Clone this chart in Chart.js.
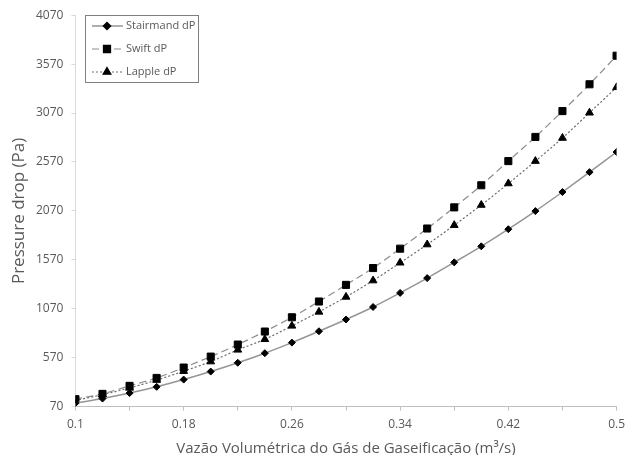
<!DOCTYPE html>
<html>
<head>
<meta charset="utf-8">
<script src="https://cdn.jsdelivr.net/npm/chart.js@4.4.1/dist/chart.umd.min.js"></script>
<style>
  html, body { margin: 0; padding: 0; background: #fff; }
  #wrap { width: 632px; height: 455px; }
</style>
</head>
<body>
<div id="wrap"><canvas id="dpChart"></canvas></div>
<script>
// vazão (m3/s)
const vazao = [0.10, 0.12, 0.14, 0.16, 0.18, 0.20, 0.22, 0.24, 0.26, 0.28, 0.30,
               0.32, 0.34, 0.36, 0.38, 0.40, 0.42, 0.44, 0.46, 0.48, 0.50];

// perda de carga (Pa)
const stairmandDP = [105, 152, 208, 272, 346, 428, 518, 616, 724, 840, 960,
                     1088, 1232, 1383, 1544, 1708, 1883, 2068, 2263, 2466, 2672];
const swiftDP = [146, 200, 282, 363, 469, 581, 704, 837, 983, 1144, 1314,
                 1486, 1684, 1890, 2106, 2332, 2579, 2826, 3090, 3364, 3656];
const lappleDP = [133, 192, 261, 341, 432, 530, 650, 758, 895, 1038, 1191,
                  1358, 1540, 1726, 1924, 2130, 2350, 2579, 2815, 3073, 3333];

// eixos
const yTicks = [70, 570, 1070, 1570, 2070, 2570, 3070, 3570, 4070];
const xTicks = [0.10, 0.14, 0.18, 0.22, 0.26, 0.30, 0.34, 0.38, 0.42, 0.46, 0.50];
const xTickLabels = ['0.1', '', '0.18', '', '0.26', '', '0.34', '', '0.42', '', '0.5'];

const FONT = "'Open Sans', sans-serif";
const GREY_TXT = '#595959';

const toPoints = vals => vals.map((v, i) => ({ x: vazao[i], y: v }));

// legenda no estilo do Excel (linha + marcador)
const legendBox = {
  id: 'legendBox',
  afterDraw(chart) {
    const { ctx, chartArea } = chart;
    const x0 = Math.round(chartArea.left) + 10;
    const y0 = Math.round(chartArea.top);
    ctx.save();
    ctx.fillStyle = '#fff';
    ctx.fillRect(x0, y0, 113, 67);
    ctx.strokeStyle = '#7f7f7f';
    ctx.lineWidth = 1;
    ctx.strokeRect(x0 + 0.5, y0 + 0.5, 113, 67);
    chart.data.datasets.forEach((ds, i) => {
      const y = y0 + 11 + i * 23;
      ctx.strokeStyle = ds.borderColor;
      ctx.lineWidth = ds.borderWidth;
      ctx.setLineDash(ds.borderDash || []);
      ctx.beginPath();
      ctx.moveTo(x0 + 7, y);
      ctx.lineTo(x0 + 38, y);
      ctx.stroke();
      ctx.setLineDash([]);
      ctx.fillStyle = '#000';
      ctx.strokeStyle = '#000';
      Chart.helpers.drawPoint(ctx, {
        pointStyle: ds.pointStyle, radius: ds.pointRadius, borderWidth: 1, rotation: 0
      }, x0 + 22, y);
      ctx.fillStyle = GREY_TXT;
      ctx.font = '11px ' + FONT;
      ctx.textBaseline = 'middle';
      ctx.fillText(ds.label, x0 + 41, y);
    });
    ctx.restore();
  }
};

const ctx = document.getElementById('dpChart').getContext('2d');
new Chart(ctx, {
  type: 'line',
  data: {
    datasets: [
      {
        label: 'Stairmand dP',
        data: toPoints(stairmandDP),
        borderColor: '#959595',
        borderWidth: 1.5,
        pointStyle: 'rectRot',
        pointRadius: 3.5,
        pointBackgroundColor: '#000',
        pointBorderColor: '#000',
        pointBorderWidth: 1,
        tension: 0.3
      },
      {
        label: 'Swift dP',
        data: toPoints(swiftDP),
        borderColor: '#8c8c8c',
        borderWidth: 1.2,
        borderDash: [7, 4],
        pointStyle: 'rect',
        pointRadius: 5,
        pointBackgroundColor: '#000',
        pointBorderColor: '#000',
        pointBorderWidth: 1,
        tension: 0.3
      },
      {
        label: 'Lapple dP',
        data: toPoints(lappleDP),
        borderColor: '#6e6e6e',
        borderWidth: 1.2,
        borderDash: [2, 2],
        pointStyle: 'triangle',
        pointRadius: 4.5,
        pointBackgroundColor: '#000',
        pointBorderColor: '#000',
        pointBorderWidth: 1,
        tension: 0.3
      }
    ]
  },
  options: {
    responsive: true,
    maintainAspectRatio: false,
    animation: false,
    layout: { padding: { left: 11, right: 14, top: 6, bottom: 0 } },
    plugins: {
      legend: { display: false },
      tooltip: { enabled: false }
    },
    scales: {
      x: {
        type: 'linear',
        min: 0.1,
        max: 0.5,
        afterBuildTicks: axis => { axis.ticks = xTicks.map(v => ({ value: v })); },
        ticks: {
          autoSkip: false,
          maxRotation: 0,
          color: GREY_TXT,
          font: { family: FONT, size: 12 },
          padding: 7,
          callback: (v, i) => xTickLabels[i]
        },
        grid: {
          drawOnChartArea: false,
          drawTicks: true,
          tickLength: 4,
          color: '#bfbfbf'
        },
        border: { color: '#bfbfbf', width: 1 },
        title: {
          display: true,
          text: 'Vazão Volumétrica do Gás de Gaseificação (m³/s)',
          color: GREY_TXT,
          font: { family: FONT, size: 15, lineHeight: 0.8 },
          padding: { top: 4, bottom: 0 }
        }
      },
      y: {
        min: 70,
        max: 4070,
        afterBuildTicks: axis => { axis.ticks = yTicks.map(v => ({ value: v })); },
        ticks: {
          color: GREY_TXT,
          font: { family: FONT, size: 12 },
          padding: 8,
          callback: v => String(v)
        },
        grid: {
          drawOnChartArea: false,
          drawTicks: true,
          tickLength: 4,
          color: '#d9d9d9'
        },
        border: { color: '#d9d9d9', width: 1 },
        title: {
          display: true,
          text: 'Pressure drop (Pa)',
          color: GREY_TXT,
          font: { family: FONT, size: 17, lineHeight: 1.0 },
          padding: { top: 0, bottom: 0 }
        }
      }
    }
  },
  plugins: [legendBox]
});
</script>
</body>
</html>
